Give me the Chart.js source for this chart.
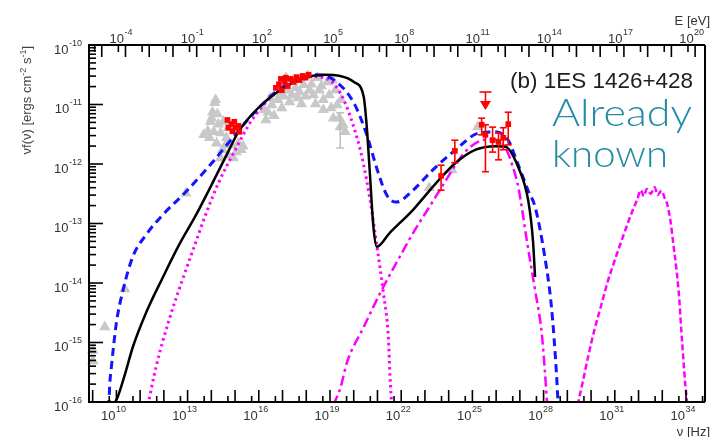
<!DOCTYPE html>
<html>
<head>
<meta charset="utf-8">
<script src="https://cdn.jsdelivr.net/npm/chart.js@4.4.1/dist/chart.umd.min.js"></script>
<style>
html,body{margin:0;padding:0;background:#fff;overflow:hidden;}
canvas{display:block;}
</style>
</head>
<body>
<canvas id="sed" width="712" height="437"></canvas>
<script>
// ---------- data (log10 of frequency [Hz] and of nu f(nu) [erg cm^-2 s^-1]) ----------
const blackLogNu = [9.90, 10.07, 10.35, 10.69, 11.25, 11.94, 12.64, 13.35, 14.01, 14.64, 15.14, 15.68, 16.39, 17.10, 17.93, 18.76, 19.43, 20.01, 20.42, 20.55, 20.69, 20.83, 20.97, 21.51, 22.50, 23.47, 24.30, 25.14, 25.97, 26.39, 26.93, 27.35, 27.55, 27.64];
const blackLogF  = [-16.05, -15.90, -15.55, -15.08, -14.50, -13.92, -13.36, -12.86, -12.35, -11.85, -11.46, -11.18, -10.91, -10.71, -10.55, -10.50, -10.52, -10.62, -10.87, -11.38, -12.22, -13.06, -13.39, -13.16, -12.77, -12.32, -11.98, -11.76, -11.70, -11.71, -12.05, -12.61, -13.28, -13.90];

const blueLogNu = [9.68, 9.72, 9.79, 10.00, 10.28, 10.69, 11.25, 11.94, 12.92, 14.03, 15.00, 15.83, 16.80, 17.92, 18.47, 19.17, 20.00, 20.55, 20.97, 21.39, 21.80, 22.50, 23.33, 24.30, 25.26, 25.97, 26.51, 26.85, 27.35, 27.64, 28.05, 28.33, 28.54, 28.62];
const blueLogF  = [-16.10, -15.71, -15.41, -14.67, -14.12, -13.56, -13.19, -12.86, -12.47, -11.98, -11.51, -11.13, -10.76, -10.54, -10.50, -10.59, -10.97, -11.51, -12.07, -12.52, -12.64, -12.44, -12.10, -11.76, -11.48, -11.46, -11.60, -11.93, -12.45, -12.72, -13.56, -14.40, -15.51, -16.10];

const syncLogNu = [11.33, 11.67, 12.22, 12.78, 13.33, 13.80, 14.30, 15.01, 15.68, 16.53, 17.36, 18.19, 18.75, 19.44, 20.14, 20.42, 20.69, 20.97, 21.25, 21.46, 21.53, 21.60];
const syncLogF  = [-16.05, -15.41, -14.62, -13.95, -13.33, -12.81, -12.32, -11.76, -11.28, -10.87, -10.64, -10.53, -10.55, -10.81, -11.56, -12.02, -12.61, -13.36, -14.17, -14.92, -15.58, -16.05];

const icLogNu = [19.15, 19.44, 19.72, 20.42, 21.11, 21.80, 22.50, 23.19, 23.89, 24.58, 25.14, 25.76, 26.39, 26.68, 26.94, 27.29, 27.64, 27.92, 28.05, 28.15];
const icLogF  = [-16.05, -15.76, -15.33, -14.74, -14.17, -13.66, -13.16, -12.72, -12.27, -11.85, -11.65, -11.58, -11.73, -12.02, -12.40, -13.28, -14.12, -14.84, -15.46, -16.05];

const hiLogNu = [29.43, 29.64, 29.89, 30.14, 30.43, 30.72, 30.97, 31.22, 31.47, 31.72, 31.93, 32.10, 32.22, 32.35, 32.51, 32.68, 32.80, 32.97, 33.10, 33.22, 33.35, 33.47, 33.60, 33.72, 33.80, 33.89, 33.97, 34.06];
const hiLogF  = [-16.05, -15.68, -15.21, -14.79, -14.37, -13.95, -13.65, -13.36, -13.08, -12.81, -12.61, -12.44, -12.54, -12.42, -12.50, -12.39, -12.52, -12.45, -12.57, -12.69, -12.97, -13.36, -13.78, -14.29, -14.79, -15.29, -15.71, -16.05];

const greyRadioLogNu = [9.01, 9.01];
const greyRadioLogF  = [-15.13, -15.31];
const greyLogNu = [9.51, 10.35, 12.93,
  14.14, 14.05, 14.26, 13.97, 14.30, 13.85, 14.10, 14.39, 14.64, 13.93, 14.22, 14.47, 14.85, 15.14, 15.34, 15.05, 14.72, 14.39,
  14.18, 14.01, 14.51, 13.68, 14.72, 15.26, 14.93, 14.60,
  16.22, 16.30, 16.55, 16.64, 16.89, 16.97, 17.22, 17.30, 17.55, 17.64, 17.89, 17.97, 18.22, 18.30, 18.47, 18.55, 18.72, 18.89, 18.97, 19.05, 19.22, 19.30, 19.39, 19.55, 19.47, 18.72, 18.39, 17.80, 17.14, 17.47, 18.05, 16.47, 17.72, 19.14, 19.43,
  16.39, 16.80, 17.05, 18.14, 18.64, 19.10, 19.64, 17.39,
  23.18, 24.14, 25.22];
const greyLogF = [-14.74, -14.10, -12.49,
  -10.97, -11.13, -11.16, -11.29, -11.33, -11.45, -11.46, -11.48, -11.56, -11.56, -11.65, -11.76, -11.68, -11.65, -11.70, -11.80, -11.85, -11.90,
  -10.92, -11.23, -11.29, -11.51, -11.39, -11.76, -11.90, -11.68,
  -11.09, -11.26, -11.01, -11.19, -10.84, -11.06, -10.76, -10.96, -10.72, -10.89, -10.67, -10.86, -10.66, -10.84, -10.55, -10.76, -10.92, -10.62, -10.84, -11.06, -10.76, -11.01, -11.23, -11.34, -10.92, -11.09, -10.99, -10.99, -10.55, -10.59, -10.52, -10.89, -10.79, -11.23, -11.38,
  -11.13, -10.92, -10.86, -10.76, -10.69, -10.59, -11.46, -10.84,
  -12.40, -12.10, -11.38];
const greyErrLogNu = [19.43];
const greyErrLo = [-11.73];
const greyErrHi = [-11.14];

const redOptLogNu = [14.68, 14.85, 15.01, 15.18, 14.72, 14.97, 15.14, 14.89];
const redOptLogF  = [-11.26, -11.33, -11.39, -11.46, -11.39, -11.29, -11.36, -11.45];
const redXLogNu = [16.72, 16.85, 16.97, 17.10, 17.22, 17.35, 17.47, 17.60, 17.72, 17.85, 17.97, 18.10, 17.14, 16.93];
const redXLogF  = [-10.72, -10.66, -10.76, -10.62, -10.69, -10.57, -10.62, -10.54, -10.59, -10.52, -10.55, -10.50, -10.55, -10.57];

const vheLogNu  = [23.68, 24.26, 25.39, 25.55, 25.85, 26.10, 26.30, 26.51];
const vheLogF   = [-12.20, -11.78, -11.34, -11.51, -11.60, -11.63, -11.56, -11.33];
const vheLogFLo = [-12.44, -11.98, -11.51, -12.13, -11.80, -11.93, -11.76, -11.68];
const vheLogFHi = [-12.02, -11.60, -11.23, -11.34, -11.38, -11.48, -11.39, -11.13];
const ulLogNu = [25.55];
const ulLogF  = [-10.79];

// tick labels (exponents of 10)
const xTickExps = [10, 13, 16, 19, 22, 25, 28, 31, 34];
const eTickExps = [-4, -1, 2, 5, 8, 11, 14, 17, 20];
const yTickExps = [-16, -15, -14, -13, -12, -11, -10];

const LOG_H_EV = Math.log10(4.135667e-15); // Planck constant in eV s
const FONT = '"Liberation Sans", Arial, Helvetica, sans-serif';
const TXT = '#333333';

function pts(lx, ly) { return lx.map((v, i) => ({ x: Math.pow(10, v), y: Math.pow(10, ly[i]) })); }

function lineDS(label, lx, ly, color, width, dash) {
  return { type: 'line', label, data: pts(lx, ly), borderColor: color, borderWidth: width,
    borderDash: dash, pointRadius: 0, fill: false, cubicInterpolationMode: 'monotone', clip: 0 };
}

function seg(ctx, x1, y1, x2, y2) { ctx.beginPath(); ctx.moveTo(x1, y1); ctx.lineTo(x2, y2); ctx.stroke(); }

function powWidth(ctx, exp) {
  ctx.font = '13px ' + FONT; const w1 = ctx.measureText('10').width;
  ctx.font = '9px ' + FONT; const w2 = ctx.measureText(String(exp)).width;
  return [w1, w2];
}
function drawPow(ctx, exp, left, baseY, expY) {
  const [w1] = powWidth(ctx, exp);
  ctx.font = '13px ' + FONT; ctx.textAlign = 'left'; ctx.textBaseline = 'alphabetic';
  ctx.fillText('10', left, baseY);
  ctx.font = '9px ' + FONT;
  ctx.fillText(String(exp), left + w1 + 0.5, expY);
}

const errPlugin = {
  id: 'errBars',
  afterDatasetsDraw(chart) {
    const { ctx, scales: { x, y } } = chart;
    ctx.save();
    ctx.strokeStyle = '#bdbdbd'; ctx.lineWidth = 1.5;
    greyErrLogNu.forEach((lx, i) => {
      const px = x.getPixelForValue(Math.pow(10, lx));
      const lo = y.getPixelForValue(Math.pow(10, greyErrLo[i])), hi = y.getPixelForValue(Math.pow(10, greyErrHi[i]));
      seg(ctx, px, lo, px, hi); seg(ctx, px - 4, lo, px + 4, lo); seg(ctx, px - 4, hi, px + 4, hi);
    });
    ctx.strokeStyle = '#ff0000'; ctx.fillStyle = '#ff0000'; ctx.lineWidth = 1.6;
    vheLogNu.forEach((lx, i) => {
      const px = x.getPixelForValue(Math.pow(10, lx));
      const lo = y.getPixelForValue(Math.pow(10, vheLogFLo[i])), hi = y.getPixelForValue(Math.pow(10, vheLogFHi[i]));
      seg(ctx, px, lo, px, hi); seg(ctx, px - 3.5, lo, px + 3.5, lo); seg(ctx, px - 3.5, hi, px + 3.5, hi);
    });
    ulLogNu.forEach((lx, i) => {
      const px = x.getPixelForValue(Math.pow(10, lx));
      const py = y.getPixelForValue(Math.pow(10, ulLogF[i]));
      seg(ctx, px - 6, py, px + 6, py); seg(ctx, px, py, px, py + 10);
      ctx.beginPath(); ctx.moveTo(px - 5.5, py + 9); ctx.lineTo(px + 5.5, py + 9); ctx.lineTo(px, py + 18); ctx.closePath(); ctx.fill();
    });
    ctx.restore();
  }
};

const axesPlugin = {
  id: 'rootAxes',
  afterDraw(chart) {
    const { ctx, chartArea: a, scales: { x, y } } = chart;
    ctx.save();
    ctx.strokeStyle = '#000'; ctx.lineWidth = 2; ctx.lineCap = 'butt';
    // frame
    seg(ctx, a.left, a.top - 1, a.left, a.bottom + 1);
    seg(ctx, a.left - 1, a.top, a.right, a.top);
    seg(ctx, a.left - 1, a.bottom, a.right, a.bottom);
    seg(ctx, a.right, a.top, a.right, a.bottom);
    ctx.lineWidth = 1.6;
    // left ticks
    for (let e = -16; e <= -10; e++) {
      for (let m = 1; m < 10; m++) {
        if (e === -10 && m > 1) break;
        const py = y.getPixelForValue(m * Math.pow(10, e));
        seg(ctx, a.left, py, a.left + (m === 1 ? 14 : 7), py);
      }
    }
    // bottom ticks (nu)
    for (let e = 8; e <= 35; e++) {
      [[Math.pow(10, e), 12], [5 * Math.pow(10, e), 6]].forEach(([v, len]) => {
        const px = x.getPixelForValue(v);
        if (px > a.left + 1 && px < a.right) seg(ctx, px, a.bottom, px, a.bottom - len);
      });
    }
    // top ticks (E)
    for (let e = -7; e <= 21; e++) {
      [[e, 12], [e + Math.log10(5), 7]].forEach(([le, len]) => {
        const px = x.getPixelForValue(Math.pow(10, le - LOG_H_EV));
        if (px > a.left + 1 && px < a.right) seg(ctx, px, a.top, px, a.top + len);
      });
    }
    // labels
    ctx.fillStyle = TXT;
    xTickExps.forEach(e => {
      const px = x.getPixelForValue(Math.pow(10, e));
      const [w1] = powWidth(ctx, e);
      drawPow(ctx, e, px - 1 - w1, a.bottom + 18, a.bottom + 10);
    });
    eTickExps.forEach(e => {
      const px = x.getPixelForValue(Math.pow(10, e - LOG_H_EV));
      const [w1] = powWidth(ctx, e);
      drawPow(ctx, e, px - 1.5 - w1, a.top - 2, a.top - 10);
    });
    yTickExps.forEach(e => {
      const py = y.getPixelForValue(Math.pow(10, e));
      const [w1, w2] = powWidth(ctx, e);
      drawPow(ctx, e, 82 - w1 - w2 - 0.5, py + 8.5, py + 0.5);
    });
    // axis titles
    ctx.font = '13px ' + FONT; ctx.textAlign = 'right'; ctx.textBaseline = 'alphabetic';
    ctx.fillText('E [eV]', 710, 25);
    ctx.fillText('\u03bd [Hz]', 710, 436);
    // y title (rotated)
    const parts = [['\u03bdf(\u03bd) [ergs cm', 0], ['-2', 1], [' s', 0], ['-1', 1], [']', 0]];
    let total = 0; const ws = parts.map(([t, s]) => { ctx.font = (s ? '9px ' : '13px ') + FONT; const w = ctx.measureText(t).width; total += w; return w; });
    ctx.save();
    ctx.fillStyle = '#444';
    ctx.translate(31, 46 + total); ctx.rotate(-Math.PI / 2);
    ctx.textAlign = 'left';
    let cx = 0;
    parts.forEach(([t, s], i) => { ctx.font = (s ? '9px ' : '13px ') + FONT; ctx.fillText(t, cx, s ? -5 : 0); cx += ws[i]; });
    ctx.restore();
    // panel label
    ctx.fillStyle = '#1e1e1e'; ctx.textAlign = 'left';
    ctx.font = '22px ' + FONT;
    const t1 = '(b) 1ES 1426+428'; const tw = ctx.measureText(t1).width;
    ctx.save(); ctx.translate(510, 88); ctx.scale(183 / tw, 1); ctx.fillText(t1, 0, 0); ctx.restore();
    // annotation
    ctx.fillStyle = '#238ca2';
    ctx.font = '300 38px Lato, "Open Sans", sans-serif';
    [['Already', 552, 126, 140], ['known', 552, 167, 116]].forEach(([t, lx, by, tw2]) => {
      const w = ctx.measureText(t).width;
      ctx.save(); ctx.translate(lx, by); ctx.scale(tw2 / w, 1); ctx.fillText(t, 0, 0); ctx.restore();
    });
    ctx.restore();
  }
};

new Chart(document.getElementById('sed'), {
  type: 'scatter',
  data: {
    datasets: [
      { label: 'VHE', data: pts(vheLogNu, vheLogF), pointStyle: 'rect', pointRadius: 4, backgroundColor: '#ff0000', borderWidth: 0, clip: false },
      { label: 'X-ray (simultaneous)', data: pts(redXLogNu, redXLogF), pointStyle: 'rect', pointRadius: 4, backgroundColor: '#ff0000', borderWidth: 0, clip: false },
      { label: 'Optical (simultaneous)', data: pts(redOptLogNu, redOptLogF), pointStyle: 'rect', pointRadius: 4, backgroundColor: '#ff0000', borderWidth: 0, clip: false },
      lineDS('Total model', blackLogNu, blackLogF, '#000000', 2.5, []),
      lineDS('Alternative model', blueLogNu, blueLogF, '#1414ff', 3, [8, 5]),
      lineDS('Synchrotron', syncLogNu, syncLogF, '#ff00ff', 3, [2.5, 3.5]),
      lineDS('Inverse Compton', icLogNu, icLogF, '#ff00ff', 2.5, [10, 4, 3, 4]),
      lineDS('Cascade', hiLogNu, hiLogF, '#ff00ff', 2.5, [6, 3]),
      { label: 'Archival', data: pts(greyLogNu, greyLogF), pointStyle: 'triangle', pointRadius: 6.5, backgroundColor: '#c8c8c8', borderWidth: 0, clip: false },
      { label: 'Archival radio', data: pts(greyRadioLogNu, greyRadioLogF), pointStyle: 'triangle', pointRadius: 6, backgroundColor: '#c8c8c8', borderColor: '#c8c8c8', borderWidth: 1, clip: false }
    ]
  },
  options: {
    responsive: false, animation: false, devicePixelRatio: 1,
    layout: { padding: { left: 89, top: 45, right: 0, bottom: 35 } },
    scales: {
      x: { type: 'logarithmic', min: Math.pow(10, 8.846), max: Math.pow(10, 34.8), display: false },
      y: { type: 'logarithmic', min: 1e-16, max: 1e-10, display: false }
    },
    plugins: { legend: { display: false }, tooltip: { enabled: false } }
  },
  plugins: [errPlugin, axesPlugin]
});
</script>
</body>
</html>
